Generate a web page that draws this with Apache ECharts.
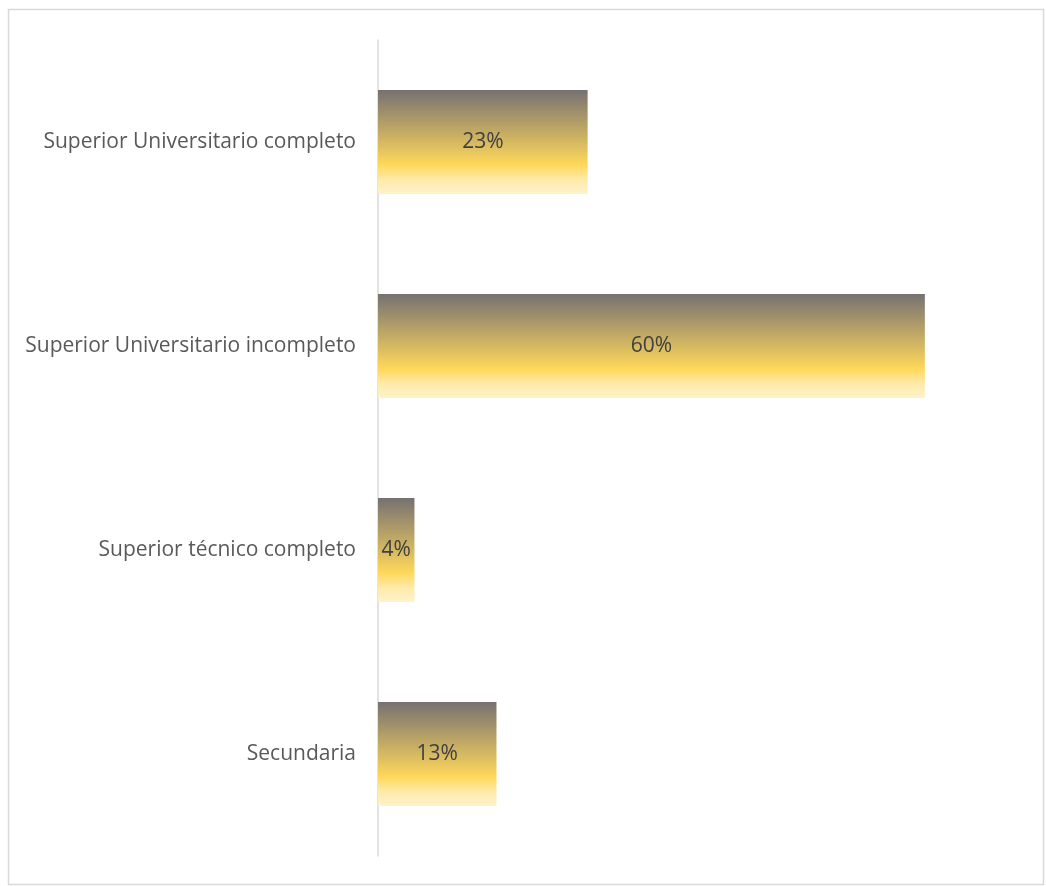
<!DOCTYPE html>
<html>
<head>
<meta charset="utf-8">
<script src="https://cdn.jsdelivr.net/npm/echarts@6/dist/echarts.min.js"></script>
<style>
  html, body { margin: 0; padding: 0; background: #ffffff; }
  #chart { width: 1046px; height: 886px; }
</style>
</head>
<body>
<div id="chart"></div>
<script>
// Nivel educativo alcanzado (porcentaje)
const categories = [
  'Superior Universitario completo',
  'Superior Universitario incompleto',
  'Superior técnico completo',
  'Secundaria'
];
const values = [23, 60, 4, 13];

const chart = echarts.init(document.getElementById('chart'));

const barFill = new echarts.graphic.LinearGradient(0, 0, 0, 1, [
  { offset: 0, color: '#767171' },
  { offset: 0.72, color: '#ffd85a' },
  { offset: 0.86, color: '#feeaa9' },
  { offset: 1, color: '#fff2cc' }
]);

const textFont = '"Open Sans", Lato, sans-serif';

chart.setOption({
  animation: false,
  backgroundColor: '#ffffff',
  graphic: [{
    type: 'rect',
    shape: { x: 8.5, y: 9.5, width: 1035, height: 875 },
    style: { fill: 'none', stroke: '#d9d9d9', lineWidth: 1.5 },
    silent: true
  }],
  grid: { left: 378, top: 40, width: 638, bottom: 30 },
  xAxis: {
    type: 'value',
    min: 0,
    max: 70,
    show: false
  },
  yAxis: {
    type: 'category',
    data: categories,
    inverse: true,
    axisLine: { show: true, lineStyle: { color: '#d9d9d9', width: 1.5 } },
    axisTick: { show: false },
    axisLabel: {
      color: '#595959',
      fontSize: 21,
      fontFamily: textFont,
      margin: 22
    }
  },
  series: [{
    type: 'bar',
    data: values,
    barWidth: '51%',
    itemStyle: { color: barFill },
    label: {
      show: true,
      position: 'inside',
      formatter: '{c}%',
      color: '#404040',
      fontSize: 21,
      fontFamily: textFont
    }
  }]
});
</script>
</body>
</html>
